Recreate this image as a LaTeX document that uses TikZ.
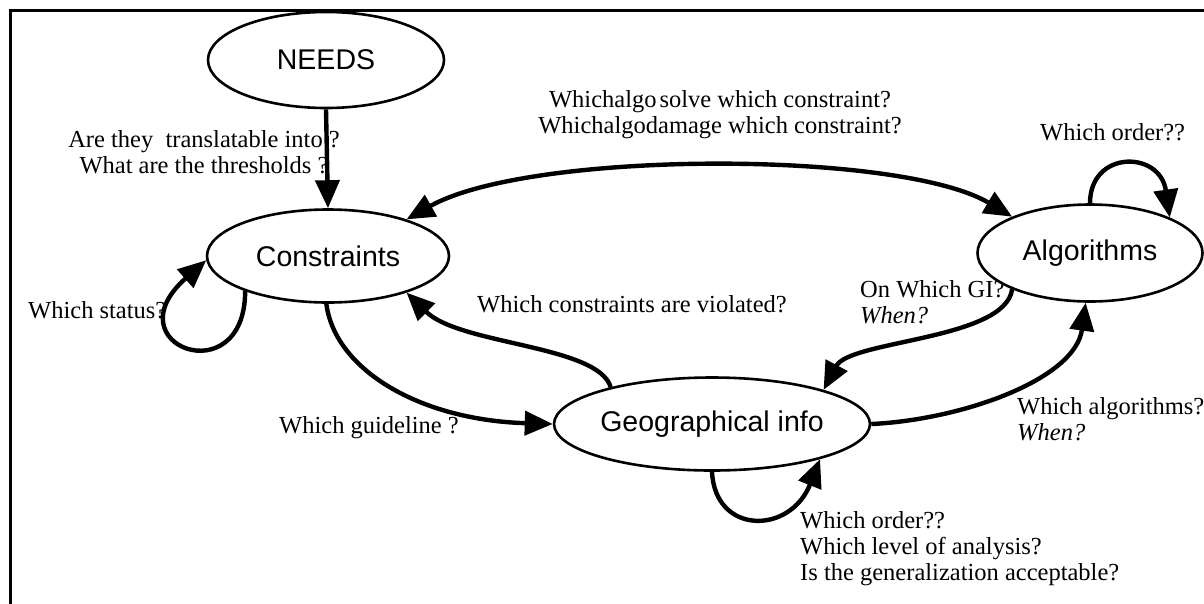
\documentclass[tikz,border=0pt]{standalone}
\usepackage{fontspec}
\setmainfont{Liberation Serif}
\newfontfamily\statefont{Liberation Sans}
\usetikzlibrary{shapes.geometric, arrows.meta}

\begin{document}
\begin{tikzpicture}[x=1pt, y=-1pt,
		>={Triangle[length=28pt, width=24pt]},
		state/.style={draw, ellipse, line width=2.6pt, inner sep=0pt, font=\statefont\fontsize{28.5}{28.5}\selectfont},
		link/.style={line width=4.4pt},
		question/.style={inner sep=0pt, font=\fontsize{24.5}{26}\selectfont}]

		\useasboundingbox (0,0) rectangle (1204,603);
		\clip (0,0) rectangle (1204,603);
		\draw[line width=3pt] (10.5,620) -- (10.5,10) -- (1220,10);

		\node[state, minimum width=236pt, minimum height=96pt]  (needs)  at (326,60)   {NEEDS};
		\node[state, minimum width=242pt, minimum height=93pt]  (cons)   at (328,256)  {Constraints};
		\node[state, minimum width=225pt, minimum height=97pt]  (algo)   at (1090,253) {Algorithms};
		\node[state, minimum width=311pt, minimum height=93pt]  (geo)    at (712,424)  {Geographical info};

		% base of a multi-line node = baseline of its last line
		\node[question, align=center, anchor=base]      (q needs)     at (204,173)  {Are they\ \ translatable into ?\\What are the thresholds ?};
		\node[question, align=center, anchor=base]      (q solve)     at (720,133)  {Whichalgo\kern3pt solve which constraint?\\Whichalgodamage which constraint?};
		\node[question, anchor=base west]               (q order)     at (1040,140) {Which order??};
		\node[question, anchor=base west]               (q status)    at (28,318)   {Which status?};
		\node[question, anchor=base west]               (q violated)  at (477,312)  {Which constraints are violated?};
		\node[question, align=left, anchor=base west]   (q gi)        at (860,323)  {On Which GI?\\\textit{When?}};
		\node[question, anchor=base west]               (q guideline) at (279,433)  {Which guideline ?};
		\node[question, align=left, anchor=base west]   (q algos)     at (1017,440) {Which algorithms?\\\textit{When?}};
		\node[question, align=left, anchor=base west]   (q geo)       at (800,580)  {Which order??\\Which level of analysis?\\Is the generalization acceptable?};


		\draw[link, ->]  (needs.south) -- (cons.north);
		\draw[link, <->] (cons.25)  .. controls (530,150)  and (900,150)  .. (algo.155);
		\draw[link, ->]  (cons.203) .. controls (245,395)  and (110,345)  .. (cons.182);
		\draw[link, ->]  (cons.268) .. controls (335,370)  and (420,420)  .. (geo.180);
		\draw[link, ->]  (geo.160)  .. controls (598,345)  and (460,345)  .. (cons.335);
		\draw[link, ->]  (algo.205) .. controls (1005,340) and (850,340)  .. (geo.17);
		\draw[link, ->]  (geo.0)    .. controls (960,420)  and (1075,380) .. (algo.265);
		\draw[link, ->]  (geo.270)  .. controls (715,535)  and (790,535)  .. (geo.342);
		\draw[link, ->]  (algo.90)  .. controls (1090,150) and (1160,150) .. (algo.24);
	\end{tikzpicture}
\end{document}
